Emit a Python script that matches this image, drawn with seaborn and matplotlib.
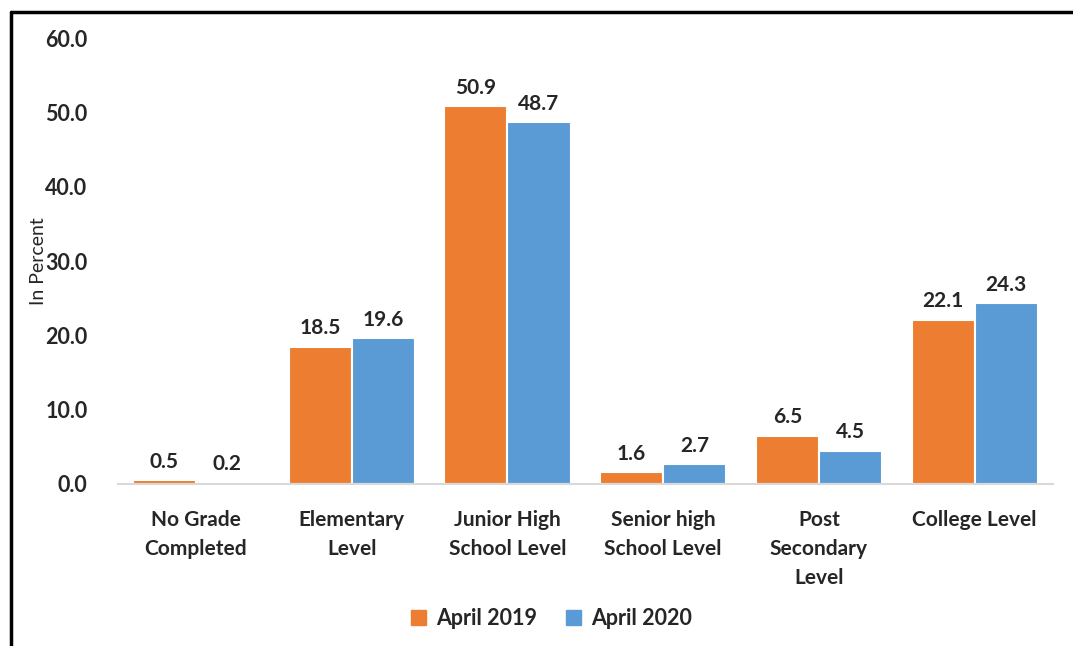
import seaborn as sns
import matplotlib.pyplot as plt
from matplotlib.lines import Line2D
import pandas as pd

# data
levels = ["No Grade\nCompleted", "Elementary\nLevel", "Junior High\nSchool Level",
          "Senior high\nSchool Level", "Post\nSecondary\nLevel", "College Level"]
apr_2019 = [0.5, 18.5, 50.9, 1.6, 6.5, 22.1]
apr_2020 = [0.2, 19.6, 48.7, 2.7, 4.5, 24.3]
series = ["April 2019", "April 2020"]

df = pd.DataFrame({
    "level": levels * 2,
    "value": apr_2019 + apr_2020,
    "period": [series[0]] * len(levels) + [series[1]] * len(levels),
})

sns.set_style("white")
plt.rcParams["font.family"] = ["Lato", "DejaVu Sans"]

fig = plt.figure(figsize=(10.73, 6.46), dpi=100)
ax = fig.add_axes([0.110, 0.2508, 0.871, 0.690])

sns.barplot(data=df, x="level", y="value", hue="period",
            palette=["#ED7D31", "#5B9BD5"], saturation=1, width=0.81,
            edgecolor="white", linewidth=1.5, ax=ax)

for cont in ax.containers:
    ax.bar_label(cont, fmt="%.1f", padding=6, fontsize=15, fontweight="bold")

ax.set_ylim(0, 60)
ax.set_yticks(range(0, 61, 10))
ax.set_yticklabels([f"{v:.1f}" for v in range(0, 61, 10)], fontsize=15.5, fontweight="bold")
ax.set_xlim(-0.5, 5.5)
ax.set_xticks(range(len(levels)))
ax.set_xticklabels(levels, fontsize=15, fontweight="bold", linespacing=1.55, va="top")
ax.tick_params(axis="y", length=0, pad=22)
ax.tick_params(axis="x", length=0, pad=19)
ax.set_xlabel("")
ax.set_ylabel("In Percent", fontsize=14)
ax.yaxis.set_label_coords(-0.076, 0.5)

for s in ["top", "right", "left"]:
    ax.spines[s].set_visible(False)
ax.spines["bottom"].set_color("#D9D9D9")
ax.spines["bottom"].set_linewidth(1.5)

ax.legend_.remove()
handles = [plt.Rectangle((0, 0), 1, 1, color=c) for c in ["#ED7D31", "#5B9BD5"]]
fig.legend(handles, series, loc="center", bbox_to_anchor=(0.514, 0.043), ncol=2,
           frameon=False, prop={"size": 15.5, "weight": "bold"},
           handlelength=0.7, handleheight=0.7, handletextpad=0.5, columnspacing=1.3)

# outer frame (top and left)
fig.add_artist(Line2D([0.0103, 1.0], [0.981, 0.981], color="black", lw=2.5, transform=fig.transFigure))
fig.add_artist(Line2D([0.0103, 0.0103], [0.0, 0.981], color="black", lw=2.5, transform=fig.transFigure))

fig.savefig("out.png", dpi=100)
